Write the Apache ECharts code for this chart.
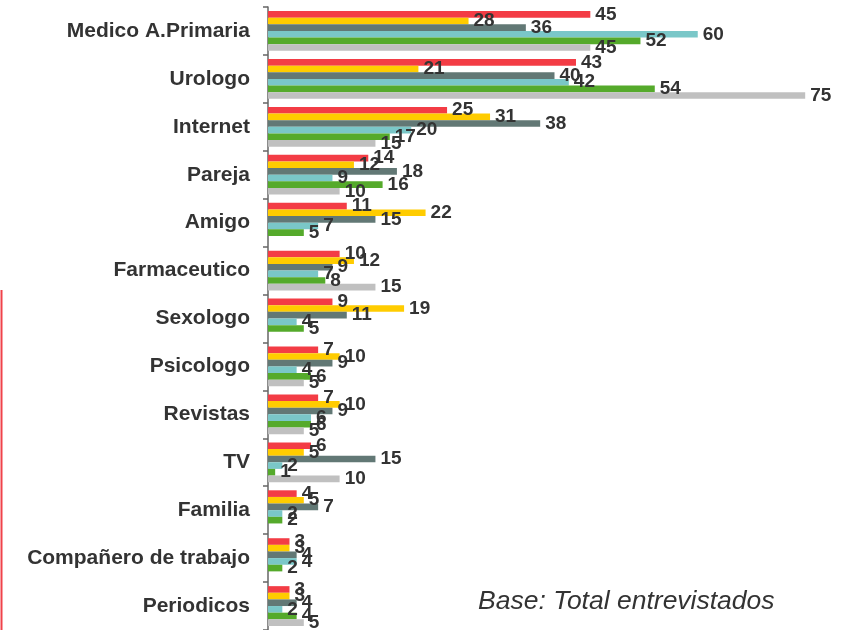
<!DOCTYPE html>
<html>
<head>
<meta charset="utf-8">
<script src="https://cdn.jsdelivr.net/npm/echarts@6/dist/echarts.min.js"></script>
<style>
  html, body { margin: 0; padding: 0; background: #ffffff; }
  #chart { width: 846px; height: 630px; }
</style>
</head>
<body>
<div id="chart"></div>
<script>
// Sources of information, top to bottom
const categories = [
  'Medico A.Primaria', 'Urologo', 'Internet', 'Pareja', 'Amigo', 'Farmaceutico',
  'Sexologo', 'Psicologo', 'Revistas', 'TV', 'Familia', 'Compañero de trabajo', 'Periodicos'
];

// One array per group (null = not mentioned)
const serieRoja    = [45, 43, 25, 14, 11, 10, 9, 7, 7, 6, 4, 3, 3];
const serieAmarilla = [28, 21, 31, 12, 22, 12, 19, 10, 10, 5, 5, 3, 3];
const serieGrisOscura = [36, 40, 38, 18, 15, 9, 11, 9, 9, 15, 7, 4, 4];
const serieTurquesa = [60, 42, 20, 9, 7, 7, 4, 4, 6, 2, 2, 4, 2];
const serieVerde    = [52, 54, 17, 16, 5, 8, 5, 6, 6, 1, 2, 2, 4];
const serieGrisClara = [45, 75, 15, 10, null, 15, null, 5, 5, 10, null, null, 5];

const seriesData = [serieRoja, serieAmarilla, serieGrisOscura, serieTurquesa, serieVerde, serieGrisClara];
const colors = ['#F33C45', '#FFCC00', '#627875', '#7AC7C8', '#55AA2B', '#C0C0C0'];

const chart = echarts.init(document.getElementById('chart'));

const option = {
  animation: false,
  grid: { left: 268, right: 5, top: 7, bottom: -1, containLabel: false },
  xAxis: {
    type: 'value',
    min: 0,
    max: 80,
    show: false
  },
  yAxis: {
    type: 'category',
    data: categories,
    inverse: true,
    axisLine: { show: true, lineStyle: { color: '#666666', width: 1.5 } },
    axisTick: { show: true, length: 5, lineStyle: { color: '#666666', width: 1.5 } },
    axisLabel: {
      color: '#333333',
      fontFamily: 'Liberation Sans, Arial, sans-serif',
      fontWeight: 'bold',
      fontSize: 21,
      margin: 18
    },
    splitLine: { show: false }
  },
  series: seriesData.map((d, i) => ({
    type: 'bar',
    data: d,
    barGap: '0%',
    barCategoryGap: '17%',
    itemStyle: { color: colors[i] },
    label: {
      show: true,
      position: 'right',
      distance: 5,
      color: '#333333',
      fontFamily: 'Liberation Sans, Arial, sans-serif',
      fontWeight: 'bold',
      fontSize: 19
    }
  })),
  graphic: [
    {
      type: 'text',
      left: 478,
      top: 588,
      style: {
        text: 'Base: Total entrevistados',
        fill: '#333333',
        font: 'italic 26.5px "Liberation Sans", Arial, sans-serif'
      }
    },
    {
      type: 'line',
      shape: { x1: 1.5, y1: 290, x2: 1.5, y2: 630 },
      style: { stroke: '#F0424A', lineWidth: 2 }
    }
  ]
};

chart.setOption(option);
</script>
</body>
</html>
